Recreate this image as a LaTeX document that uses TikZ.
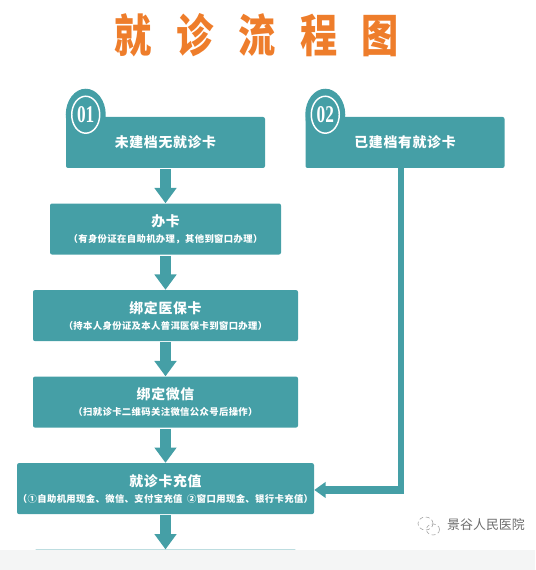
\documentclass[tikz,border=0pt]{standalone}
\usepackage{fontspec}
\setmainfont{Noto Sans CJK SC}
\newfontfamily\digitfont{Liberation Serif}
\usetikzlibrary{shapes.geometric, arrows.meta, positioning}
\definecolor{tealbox}{HTML}{459FA6}
\definecolor{titleorange}{HTML}{EE7D2B}
\definecolor{bandgrey}{HTML}{F4F5F5}
\newcommand{\mainlabel}[1]{{\fontsize{10.4}{13.6}\bfseries\addfontfeature{LetterSpace=5}#1}}
\newcommand{\sublabel}[1]{{\fontsize{7}{9}\bfseries\addfontfeature{LetterSpace=4}#1}}
\newcommand{\badgelabel}[1]{\scalebox{.72}[1]{\digitfont\fontsize{18}{18}\bfseries\selectfont #1}}

\begin{document}
\begin{tikzpicture}[
    x=0.75pt, y=0.75pt,
    node distance=26.25pt,
    box/.style={rectangle, fill=tealbox, rounded corners=1.5pt, text=white, align=center, inner sep=0pt, minimum height=38.25pt},
    badgedisc/.style={ellipse, fill=tealbox, inner sep=0pt, minimum width=30pt, minimum height=39pt},
    badgering/.style={ellipse, draw=white, line width=1.1pt, text=white, inner sep=0pt, minimum width=21pt, minimum height=27.75pt},
    arrow/.style={draw=tealbox, line width=8pt, shorten <=0.8pt, -{Triangle[width=16pt,length=11.5pt]}},
    elbow/.style={draw=tealbox, line width=4.5pt, shorten >=-3pt},
    elbowend/.style={draw=tealbox, line width=6pt, -{Triangle[width=11.5pt,length=8.5pt]}}
  ]
    \useasboundingbox (0,0) rectangle (535,570);
    \node[text=titleorange, font=\fontsize{34}{36}\bfseries] (title) at (257,535) {\scalebox{.82}[1]{\addfontfeature{LetterSpace=66}就诊流程图}};

    \node[box, minimum width=149.25pt] (new) at (165.5,427.5) {\mainlabel{未建档无就诊卡}};
    \node[box, minimum width=149.25pt, right=30pt of new] (old) {\mainlabel{已建档有就诊卡}};
    \node[box, minimum width=173.25pt, below=of new] (card) {\mainlabel{办卡}\\\sublabel{（有身份证在自助机办理，其他到窗口办理）}};
    \node[box, minimum width=198.75pt, below=of card] (insure) {\mainlabel{绑定医保卡}\\\sublabel{（持本人身份证及本人普洱医保卡到窗口办理）}};
    \node[box, minimum width=198.75pt, below=of insure] (wechat) {\mainlabel{绑定微信}\\\sublabel{（扫就诊卡二维码关注微信公众号后操作）}};
    \node[box, minimum width=222.75pt, below=of wechat] (pay) {\mainlabel{就诊卡充值}\\\sublabel{（①自助机用现金、微信、支付宝充值\enspace②窗口用现金、银行卡充值）}};
    \node[box, minimum width=197pt, below=of pay] (next) {};

    \node[badgedisc] (newdisc) at ([xshift=15pt,yshift=1.5pt]new.north west) {};
    \node[badgering] (newring) at (newdisc) {\badgelabel{01}};
    \node[badgedisc] (olddisc) at ([xshift=15pt,yshift=1.5pt]old.north west) {};
    \node[badgering] (oldring) at (olddisc) {\badgelabel{02}};

    \draw[arrow] (new) -- (card);
    \draw[arrow] (card) -- (insure);
    \draw[arrow] (insure) -- (wechat);
    \draw[arrow] (wechat) -- (pay);
    \draw[arrow] (pay) -- (next);
    \path ([xshift=-3pt]old.south) |- ([yshift=-1pt]pay.east) coordinate[pos=.5] (turn);
    \draw[elbow] ([xshift=-3pt]old.south) -- (turn);
    \draw[elbowend] (turn) -- ([yshift=-1pt]pay.east);

    \fill[bandgrey] (0,0) rectangle (535,19.5);

    \draw[gray!80, densely dashed] (425.5,46.5) ellipse (7.5 and 6.5);
    \draw[gray!80, densely dashed] (433,40.5) ellipse (6.5 and 5.5);
    \node[text=gray!85!black, font=\fontsize{9.7}{12}\selectfont] (mark) at (486,45) {景谷人民医院};
  \end{tikzpicture}
\end{document}
